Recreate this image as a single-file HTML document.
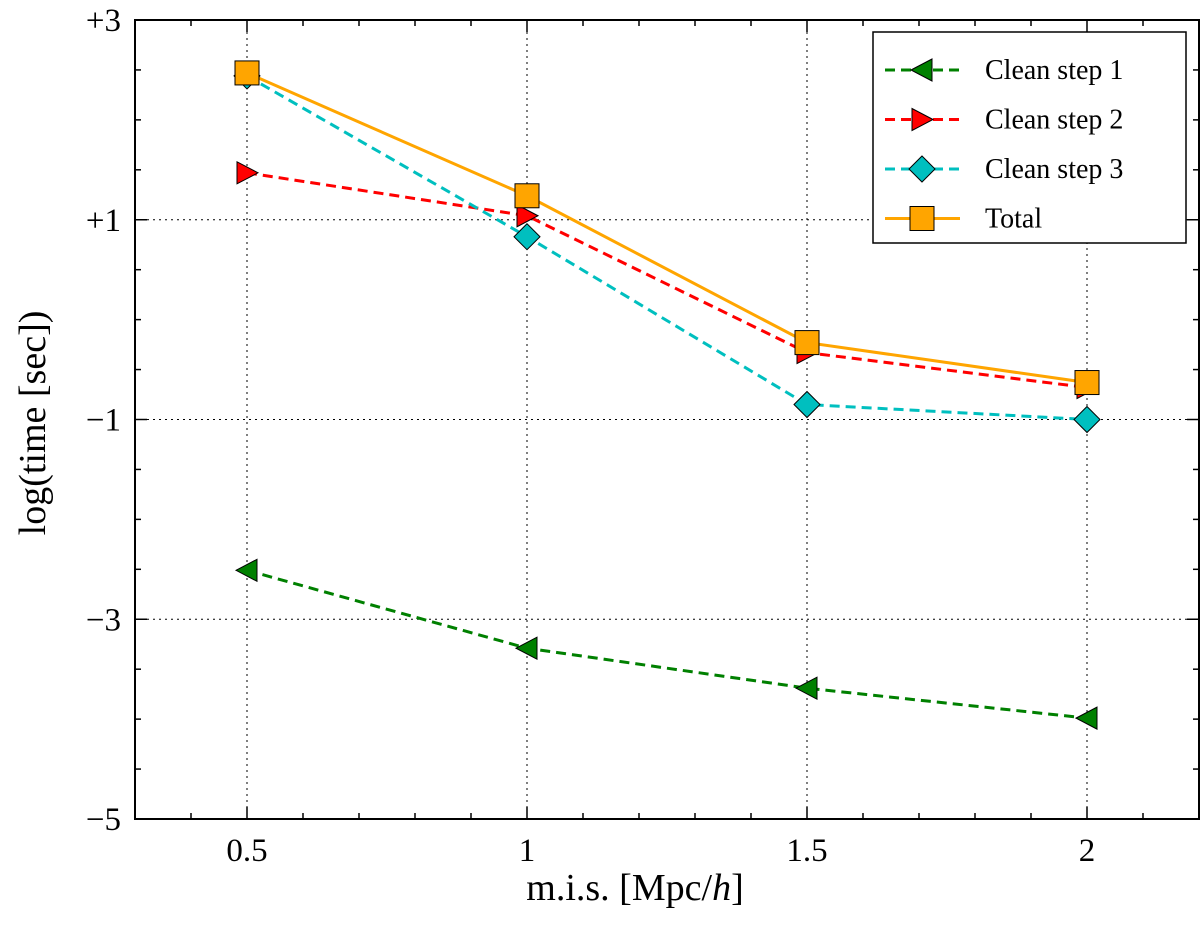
<!DOCTYPE html>
<html><head><meta charset="utf-8">
<style>
html,body{margin:0;padding:0;background:#fff;}
svg text{font-family:"Liberation Serif",serif;fill:#000;}
</style></head>
<body>
<svg id="chart" width="1200" height="926" xmlns="http://www.w3.org/2000/svg"></svg>
<script>
const categories=[0.5,1,1.5,2];
const step1=[-2.51,-3.29,-3.69,-3.99];
const step2=[1.47,1.04,-0.33,-0.68];
const step3=[2.44,0.83,-0.85,-1.0];
const total=[2.47,1.24,-0.23,-0.63];
const xTicks=[0.5,1,1.5,2];
const xTickLabels=["0.5","1","1.5","2"];
const yTicks=[3,1,-1,-3,-5];
const yTickLabels=["+3","+1","\u22121","\u22123","\u22125"];

const L=135,R=1199,T=20,B=819;
const xmin=0.3,xmax=2.2,ymin=-5,ymax=3;
const sx=v=>L+(v-xmin)/(xmax-xmin)*(R-L);
const sy=v=>B-(v-ymin)/(ymax-ymin)*(B-T);
const svg=document.getElementById('chart');
const NS="http://www.w3.org/2000/svg";
function mk(tag,attrs,parent){const e=document.createElementNS(NS,tag);for(const k in attrs)e.setAttribute(k,attrs[k]);(parent||svg).appendChild(e);return e;}

xTicks.forEach(v=>{const g=mk('line',{x1:sx(v),x2:sx(v),y1:T,y2:B,stroke:'#000','stroke-width':1,'stroke-dasharray':'2,4'});

});
yTicks.forEach(v=>{if(v===3||v===-5)return;const g=mk('line',{x1:L,x2:R,y1:sy(v),y2:sy(v),stroke:'#000','stroke-width':1,'stroke-dasharray':'2,4'});

});

for(let v=ymin;v<=ymax+0.001;v+=0.5){const len=(Math.abs(v%2)===1)?12:6;
mk('line',{x1:L,x2:L+len,y1:sy(v),y2:sy(v),stroke:'#000','stroke-width':1.5});
mk('line',{x1:R-len,x2:R,y1:sy(v),y2:sy(v),stroke:'#000','stroke-width':1.5});}
for(let v=0.3;v<=2.2001;v+=0.1){const major=xTicks.some(t=>Math.abs(t-v)<1e-6);const len=major?12:6;
mk('line',{x1:sx(v),x2:sx(v),y1:B,y2:B-len,stroke:'#000','stroke-width':1.5});
mk('line',{x1:sx(v),x2:sx(v),y1:T,y2:T+len,stroke:'#000','stroke-width':1.5});}

xTicks.forEach((v,i)=>{const t=mk('text',{x:sx(v),y:B+42,'text-anchor':'middle','font-size':33});t.textContent=xTickLabels[i];

});
yTicks.forEach((v,i)=>{const t=mk('text',{x:L-14,y:sy(v)+11,'text-anchor':'end','font-size':33});t.textContent=yTickLabels[i];

});

const xt=mk('text',{x:635,y:900,'text-anchor':'middle','font-size':38});
xt.innerHTML='m.i.s. [Mpc/<tspan font-style="italic">h</tspan>]';


const yt=mk('text',{x:0,y:0,'text-anchor':'middle','font-size':38,transform:'translate(45,423) rotate(-90)'});
yt.textContent='log(time [sec])';



function marker(kind,cx,cy,color,parent){
  if(kind==='left') return mk('polygon',{points:`${cx-11},${cy} ${cx+10},${cy-11} ${cx+10},${cy+11}`,fill:color,stroke:'#000','stroke-width':1},parent);
  if(kind==='right') return mk('polygon',{points:`${cx+11},${cy} ${cx-10},${cy-11} ${cx-10},${cy+11}`,fill:color,stroke:'#000','stroke-width':1},parent);
  if(kind==='diamond') return mk('polygon',{points:`${cx},${cy-13} ${cx+13},${cy} ${cx},${cy+13} ${cx-13},${cy}`,fill:color,stroke:'#000','stroke-width':1},parent);
  return mk('rect',{x:cx-12,y:cy-12,width:24,height:24,fill:color,stroke:'#000','stroke-width':1},parent);
}
const series=[
 {name:'Clean step 1',vals:step1,color:'#008000',dash:'10,6',kind:'left',id:'clean-step-1'},
 {name:'Clean step 2',vals:step2,color:'#ff0000',dash:'10,6',kind:'right',id:'clean-step-2'},
 {name:'Clean step 3',vals:step3,color:'#00bfbf',dash:'10,6',kind:'diamond',id:'clean-step-3'},
 {name:'Total',vals:total,color:'#ffa500',dash:'',kind:'square',id:'total'}
];
series.forEach(s=>{
  const g=mk('g',{});
  
  
  const pts=categories.map((c,i)=>sx(c)+','+sy(s.vals[i])).join(' ');
  const pl=mk('polyline',{points:pts,fill:'none',stroke:s.color,'stroke-width':3,'stroke-dasharray':s.dash},g);
  
  
  categories.forEach((c,i)=>{const m=marker(s.kind,sx(c),sy(s.vals[i]),s.color,g);
    
    });
});

const fr=mk('rect',{x:L,y:T,width:R-L,height:B-T,fill:'none',stroke:'#000','stroke-width':2});



const lg=mk('g',{});


mk('rect',{x:873,y:32,width:313,height:211,fill:'#fff',stroke:'#000','stroke-width':1.5},lg);
series.forEach((s,i)=>{
  const y=70+i*49.5;
  const e=mk('g',{},lg);
  
  
  mk('line',{x1:885,x2:960,y1:y,y2:y,stroke:s.color,'stroke-width':3,'stroke-dasharray':s.dash},e);
  marker(s.kind,922,y,s.color,e);
  const t=mk('text',{x:985,y:y+9,'font-size':28},e);t.textContent=s.name;
});
</script>
</body></html>
